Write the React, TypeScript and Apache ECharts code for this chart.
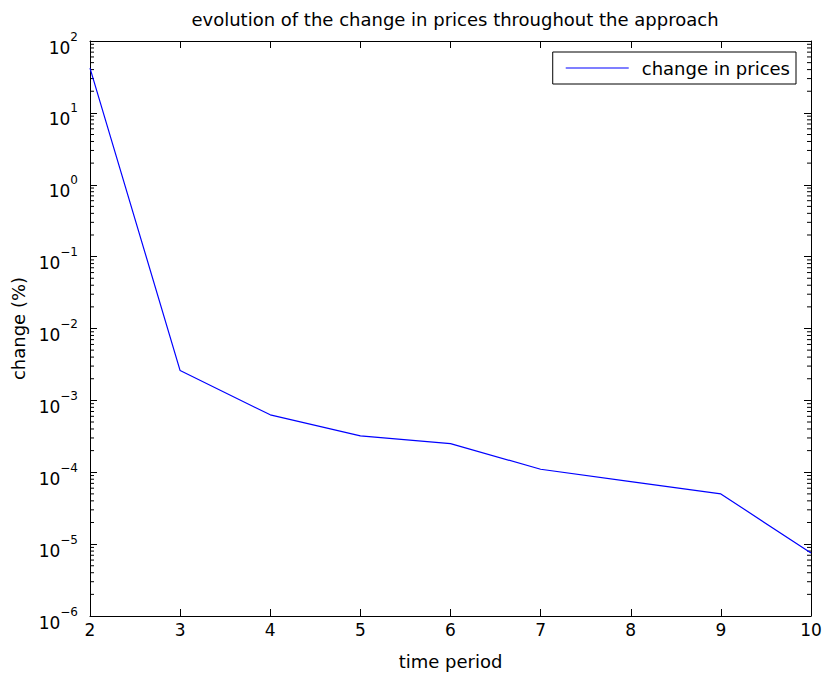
import React, { useEffect, useRef } from "react";
import * as echarts from "echarts";

const periods = [2, 3, 4, 5, 6, 7, 8, 9, 10];
const changes = [42, 2.6e-3, 6.3e-4, 3.2e-4, 2.5e-4, 1.1e-4, 7.4e-5, 5.0e-5, 7.5e-6];
const seriesName = "change in prices";
const titleText = "evolution of the change in prices throughout the approach";
const xName = "time period";
const yName = "change (%)";
const yMin = 1e-6;
const yMax = 1e2;
const xMin = 2;
const xMax = 10;

const FONT = "DejaVu Sans";

function minorTickValues(): number[][] {
  const out: number[][] = [];
  const lo = Math.round(Math.log10(yMin));
  const hi = Math.round(Math.log10(yMax));
  for (let e = lo; e < hi; e++) {
    for (let m = 2; m <= 9; m++) out.push([xMin, m * Math.pow(10, e)]);
  }
  return out;
}

function expLabel(v: number) {
  const e = Math.round(Math.log10(v));
  const s = e < 0 ? "\u2212" + Math.abs(e) : String(e);
  return "{b|10}{e|" + s + "}";
}

export default function App() {
  const ref = useRef<HTMLDivElement>(null);
  useEffect(() => {
    if (!ref.current) return;
    const chart = echarts.init(ref.current, null, { renderer: "svg" });
    const axisLine = { show: true, lineStyle: { color: "#000", width: 1 } };
    const tickIn = { show: true, inside: true, length: 7, lineStyle: { color: "#000", width: 1 } };
    const rich = {
      b: { fontSize: 17, fontFamily: FONT, color: "#000", padding: [13, 0, 0, 0] },
      e: { fontSize: 12, fontFamily: FONT, color: "#000", padding: [0, 0, 9, 0] },
    };
    chart.setOption({
      animation: false,
      backgroundColor: "#fff",
      title: {
        text: titleText,
        left: 450,
        textAlign: "center",
        top: 5,
        textStyle: { fontFamily: FONT, fontSize: 18, fontWeight: "normal", color: "#000" },
      },
      legend: {
        data: [{ name: seriesName, icon: "rect" }],
        right: 31,
        top: 52,
        itemWidth: 63,
        itemHeight: 1.2,
        borderColor: "#000",
        borderWidth: 1,
        backgroundColor: "#fff",
        padding: [7, 6, 7, 13],
        textStyle: { fontFamily: FONT, fontSize: 18, color: "#000", padding: [0, 0, 0, 8] },
      },
      grid: { left: 90, right: 16, top: 41, bottom: 61, containLabel: false },
      xAxis: [
        {
          type: "value",
          min: xMin,
          max: xMax,
          interval: 1,
          position: "bottom",
          name: xName,
          nameLocation: "middle",
          nameGap: 36,
          nameTextStyle: { fontFamily: FONT, fontSize: 18, color: "#000" },
          axisLine,
          axisTick: tickIn,
          splitLine: { show: false },
          axisLabel: { fontFamily: FONT, fontSize: 17, color: "#000", margin: 5 },
        },
        {
          type: "value",
          min: xMin,
          max: xMax,
          interval: 1,
          position: "top",
          axisLine,
          axisTick: tickIn,
          splitLine: { show: false },
          axisLabel: { show: false },
        },
      ],
      yAxis: [
        {
          type: "log",
          logBase: 10,
          min: yMin,
          max: yMax,
          interval: 1,
          position: "left",
          name: yName,
          nameLocation: "middle",
          nameGap: 58,
          nameTextStyle: { fontFamily: FONT, fontSize: 18, color: "#000" },
          axisLine,
          axisTick: tickIn,
          splitLine: { show: false },
          axisLabel: { formatter: expLabel, rich, margin: 12 },
        },
        {
          type: "log",
          logBase: 10,
          min: yMin,
          max: yMax,
          interval: 1,
          position: "right",
          axisLine,
          axisTick: tickIn,
          splitLine: { show: false },
          axisLabel: { show: false },
        },
      ],
      series: [
        {
          name: seriesName,
          type: "line",
          data: periods.map((p, i) => [p, changes[i]]),
          showSymbol: false,
          symbol: "none",
          lineStyle: { color: "#0000ff", width: 1.2 },
          itemStyle: { color: "#0000ff" },
          z: 5,
        },
        {
          name: "minorTicks",
          type: "custom",
          silent: true,
          xAxisIndex: 0,
          yAxisIndex: 0,
          data: minorTickValues(),
          renderItem: (params: any, api: any) => {
            const v = api.value(1);
            const pL = api.coord([xMin, v]);
            const pR = api.coord([xMax, v]);
            const style = { stroke: "#000", lineWidth: 1 };
            return {
              type: "group",
              children: [
                { type: "line", shape: { x1: pL[0], y1: pL[1], x2: pL[0] + 4, y2: pL[1] }, style },
                { type: "line", shape: { x1: pR[0], y1: pR[1], x2: pR[0] - 4, y2: pR[1] }, style },
              ],
            };
          },
          z: 4,
        },
      ],
    });
    return () => chart.dispose();
  }, []);
  return (
    <div
      ref={ref}
      style={{ position: "absolute", left: 0, top: 0, width: 827, height: 677 }}
    />
  );
}
